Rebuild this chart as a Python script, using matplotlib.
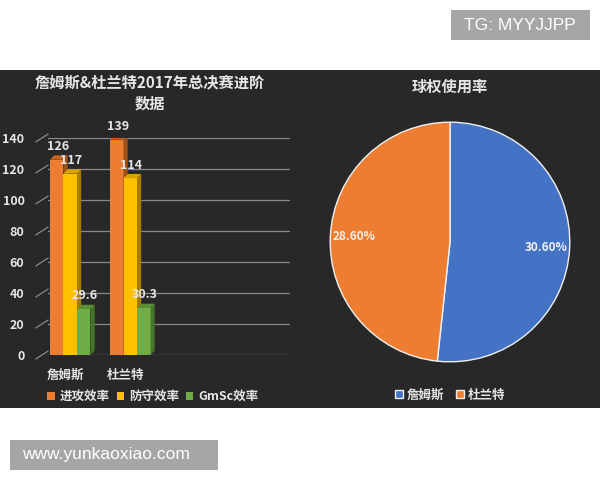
import numpy as np
import matplotlib.pyplot as plt
from matplotlib.patches import Rectangle, Polygon
import matplotlib.transforms as mtransforms

plt.rcParams['font.family'] = ['Noto Sans CJK SC', 'DejaVu Sans']

players = ['詹姆斯', '杜兰特']
series_names = ['进攻效率', '防守效率', 'GmSc效率']
offense = [126, 139]
defense = [117, 114]
gmsc = [29.6, 30.3]
usage = [30.60, 28.60]
usage_labels = ['30.60%', '28.60%']

bar_colors = ['#ED7D31', '#FFC000', '#70AD47']
side_colors = ['#9c4f17', '#a57c00', '#46742a']
top_colors = ['#c9651f', '#d9a300', '#5a8f38']
pie_colors = ['#4472C4', '#ED7D31']
bg = '#282828'
txt = '#e6e6e6'
grid = '#8a8a8a'

fig = plt.figure(figsize=(6, 4.8), dpi=100)
fig.patch.set_facecolor('white')

# dark panel
fig.patches.append(Rectangle((0, 1 - 408 / 480), 1, 338 / 480, transform=fig.transFigure,
                             facecolor=bg, edgecolor='none', zorder=-10))

# ---- bar chart ----
ax = fig.add_axes([48 / 600, 1 - 355 / 480, 242 / 600, 217 / 480])
ax.set_facecolor('none')
ax.set_xlim(-0.37, 3.66)
ax.set_ylim(0, 140)
for s in ax.spines.values():
    s.set_visible(False)

yt = np.arange(0, 141, 20)
for v in yt:
    ax.axhline(v, color=grid, lw=0.9, zorder=0)
trans = mtransforms.blended_transform_factory(ax.transAxes, ax.transData)
for v in yt:
    ax.plot([-0.05, 0], [v - 2.5, v + 2.5], color=grid, lw=0.9, transform=trans, clip_on=False)

w = 0.225
dx, dy = 0.07, 2.8
data = [offense, defense, gmsc]
x = np.arange(len(players))
for i, vals in enumerate(data):
    xs = x + (i - 1) * w
    ax.bar(xs, vals, width=w, color=bar_colors[i], zorder=3 + i * 0.1, label=series_names[i])
    for xc, h in zip(xs, vals):
        r = xc + w / 2
        l = xc - w / 2
        ax.add_patch(Polygon([[r, 0], [r + dx, dy], [r + dx, h + dy], [r, h]],
                             closed=True, facecolor=side_colors[i], edgecolor='none', zorder=3 + i * 0.1))
        ax.add_patch(Polygon([[l, h], [l + dx, h + dy], [r + dx, h + dy], [r, h]],
                             closed=True, facecolor=top_colors[i], edgecolor='none', zorder=3 + i * 0.1))
        lab = f'{h:g}'
        ax.text(xc + 0.02, h + dy + 1.5, lab, ha='center', va='bottom', color=txt,
                fontsize=9, fontweight='bold', zorder=10, clip_on=False)

ax.set_yticks(yt)
ax.set_yticklabels([str(v) for v in yt], color=txt, fontsize=9, fontweight='bold')
ax.tick_params(axis='y', length=0, pad=17)
ax.set_xticks(x - 0.08)
ax.set_xticklabels(players, color=txt, fontsize=9, fontweight='bold')
ax.tick_params(axis='x', length=0, pad=10)

leg = ax.legend(loc='upper left', bbox_to_anchor=(-0.05, -0.11), ncol=3, frameon=False,
                handlelength=0.6, handleheight=0.6, handletextpad=0.4, columnspacing=0.55,
                prop={'size': 9, 'weight': 'bold'})
for t in leg.get_texts():
    t.set_color(txt)

fig.text(150 / 600, 1 - 82 / 480, '詹姆斯&杜兰特2017年总决赛进阶', ha='center', va='center',
         color=txt, fontsize=11, fontweight='bold')
fig.text(150 / 600, 1 - 104 / 480, '数据', ha='center', va='center',
         color=txt, fontsize=11, fontweight='bold')

# ---- pie chart ----
pax = fig.add_axes([329 / 600, 1 - 363 / 480, 242 / 600, 242 / 480])
pax.set_facecolor('none')
wedges, _ = pax.pie(usage, colors=pie_colors, startangle=90, counterclock=False,
                    wedgeprops={'edgecolor': '#f0f0f0', 'linewidth': 1})
for wdg, lab in zip(wedges, usage_labels):
    ang = np.deg2rad((wdg.theta1 + wdg.theta2) / 2)
    pax.text(0.8 * np.cos(ang), 0.8 * np.sin(ang), lab, ha='center', va='center',
             color='#f2f2f2', fontsize=8.5, fontweight='bold')
pax.set_aspect('equal')
pax.set_xlim(-1.01, 1.01)
pax.set_ylim(-1.01, 1.01)

fig.text(450 / 600, 1 - 87 / 480, '球权使用率', ha='center', va='center',
         color=txt, fontsize=11, fontweight='bold')
pleg = fig.legend(wedges, players, loc='center', bbox_to_anchor=(450 / 600, 1 - 395 / 480),
                  ncol=2, frameon=False, handlelength=0.6, handleheight=0.6, handletextpad=0.3,
                  columnspacing=1.0, prop={'size': 9, 'weight': 'bold'})
for t in pleg.get_texts():
    t.set_color(txt)

# ---- watermarks ----
fig.patches.append(Rectangle((451 / 600, 1 - 40 / 480), 139 / 600, 30 / 480, transform=fig.transFigure,
                             facecolor='#a6a6a6', edgecolor='none'))
fig.text(520 / 600, 1 - 25 / 480, 'TG: MYYJJPP', ha='center', va='center', color='white',
         fontsize=12.5, family='Liberation Sans')
fig.patches.append(Rectangle((10 / 600, 1 - 470 / 480), 208 / 600, 30 / 480, transform=fig.transFigure,
                             facecolor='#a6a6a6', edgecolor='none'))
fig.text(106 / 600, 1 - 455 / 480, 'www.yunkaoxiao.com', ha='center', va='center', color='white',
         fontsize=12.5, family='Liberation Sans')

fig.savefig('out.png', dpi=100, facecolor=fig.get_facecolor())
